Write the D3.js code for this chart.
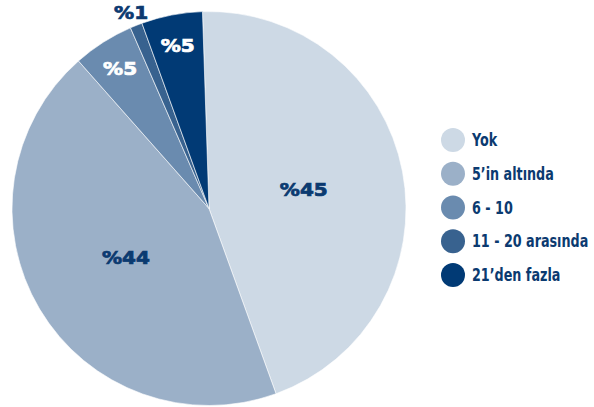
<!DOCTYPE html>
<html>
<head>
<meta charset="utf-8">
<script src="https://cdn.jsdelivr.net/npm/d3@7"></script>
<style>
  body { margin: 0; background: #fff; }
  svg { display: block; }
</style>
</head>
<body>
<svg id="chart" width="594" height="407"></svg>
<script>
// data
var categories = ["Yok", "5\u2019in altında", "6 - 10", "11 - 20 arasında", "21\u2019den fazla"];
var values = [45, 44, 5, 1, 5];
var colors = ["#cdd9e5", "#9bb0c8", "#6a8baf", "#38628f", "#013a75"];
var labelColors = ["#0b3a70", "#0b3a70", "#ffffff", "#0b3a70", "#ffffff"];

var width = 594, height = 407;
var cx = 209, cy = 208.5, radius = 197;
var textColor = "#0b3a70";

var svg = d3.select("#chart");

var pie = d3.pie()
            .sort(null)
            .startAngle(-1.9 * Math.PI / 180)
            .endAngle(2 * Math.PI - 1.9 * Math.PI / 180)
            .value(function(d) { return d; });

var arc = d3.arc().innerRadius(0).outerRadius(radius);

var slices = pie(values);

var g = svg.append("g").attr("transform", "translate(" + cx + "," + cy + ")");

g.selectAll("path")
 .data(slices)
 .enter()
 .append("path")
 .attr("d", arc)
 .attr("fill", function(d, i) { return colors[i]; })
 .attr("stroke", "#ffffff")
 .attr("stroke-width", 0.6);

// big slices get label near the middle, small ones near the rim, tiny ones outside
function labelRadius(v) {
  if (v >= 10) { return radius * 0.49; }
  if (v >= 3) { return radius * 0.84; }
  return radius * 1.07;
}

g.selectAll("text.pct")
 .data(slices)
 .enter()
 .append("text")
 .attr("class", "pct")
 .attr("transform", function(d) {
   var r = labelRadius(d.data);
   var a = (d.startAngle + d.endAngle) / 2;
   return "translate(" + (Math.sin(a) * r) + "," + (-Math.cos(a) * r) + ") scale(1.18,1)";
 })
 .attr("text-anchor", "middle")
 .attr("dy", "0.36em")
 .attr("font-family", "'DejaVu Sans', Verdana, sans-serif")
 .attr("font-weight", "bold")
 .attr("font-size", 17)
 .attr("fill", function(d, i) { return d.data < 3 ? textColor : labelColors[i]; })
 .attr("stroke", function(d, i) { return d.data < 3 ? textColor : labelColors[i]; })
 .attr("stroke-width", 0.7)
 .text(function(d) { return "%" + d.data; });

// legend
var legendY = d3.scalePoint().domain(categories).range([140, 275]);

var legend = svg.append("g")
                .selectAll("g")
                .data(categories)
                .enter()
                .append("g")
                .attr("transform", function(d) { return "translate(453," + legendY(d) + ")"; });

legend.append("circle")
      .attr("r", 12)
      .attr("fill", function(d, i) { return colors[i]; });

// no condensed face installed, so squeeze the bold one
legend.append("text")
      .attr("transform", "translate(19,0) scale(0.75,1)")
      .attr("dy", "0.36em")
      .attr("font-family", "'DejaVu Sans', sans-serif")
      .attr("font-weight", "bold")
      .attr("font-size", 17)
      .attr("fill", textColor)
      .text(function(d) { return d; });
</script>
</body>
</html>
